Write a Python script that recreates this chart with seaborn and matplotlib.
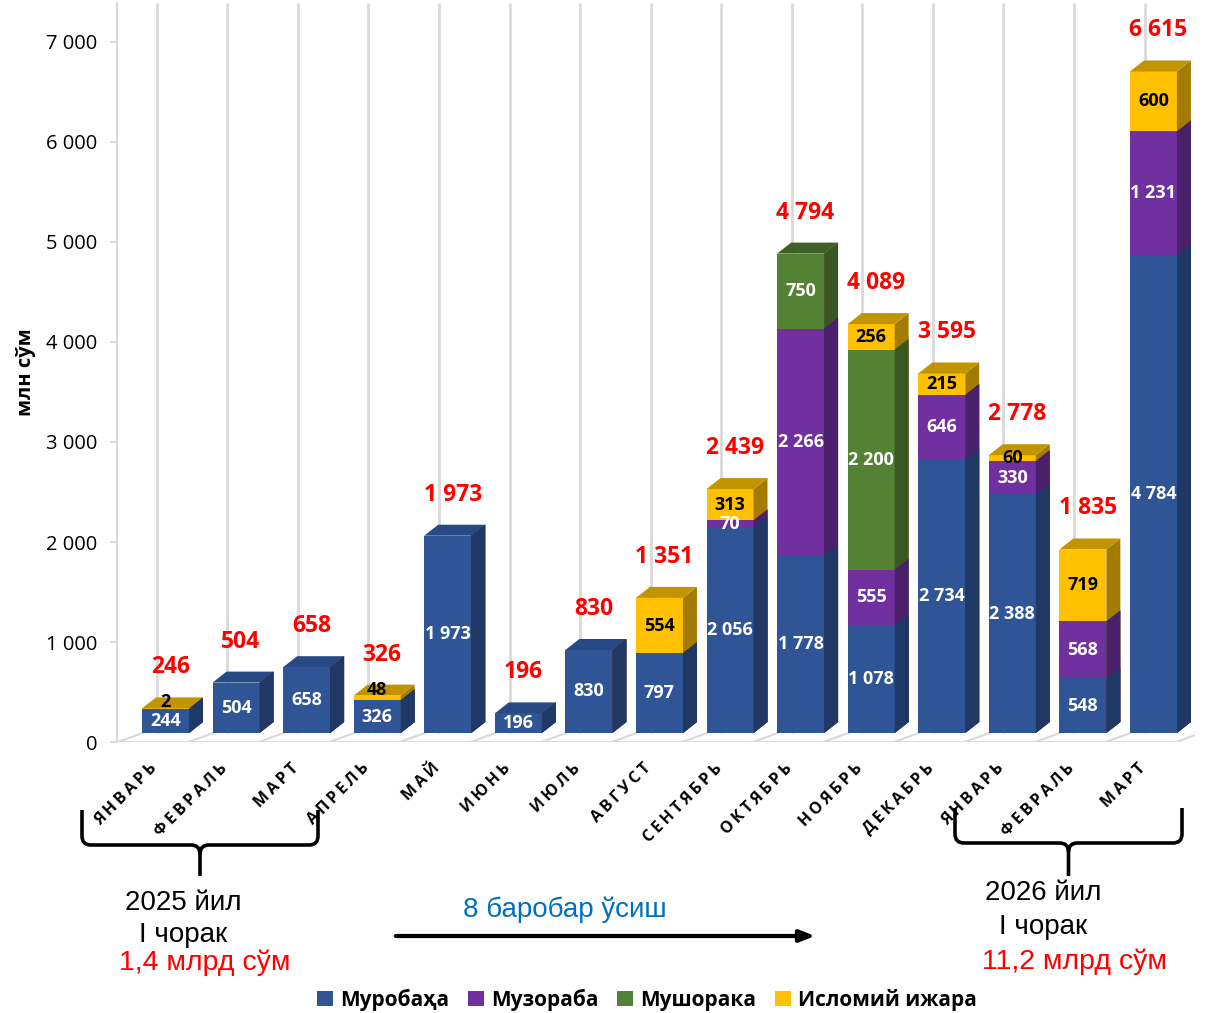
import numpy as np
import pandas as pd
import matplotlib
matplotlib.use('Agg')
import matplotlib.pyplot as plt
import seaborn as sns
from matplotlib.patches import Polygon, Patch, PathPatch
from matplotlib.path import Path
from matplotlib.ticker import FuncFormatter

# ---- data ----
months = ['ЯНВАРЬ', 'ФЕВРАЛЬ', 'МАРТ', 'АПРЕЛЬ', 'МАЙ', 'ИЮНЬ', 'ИЮЛЬ', 'АВГУСТ',
          'СЕНТЯБРЬ', 'ОКТЯБРЬ', 'НОЯБРЬ', 'ДЕКАБРЬ', 'ЯНВАРЬ', 'ФЕВРАЛЬ', 'МАРТ']
murobaha = [244, 504, 658, 326, 1973, 196, 830, 797, 2056, 1778, 1078, 2734, 2388, 548, 4784]
muzoraba = [0, 0, 0, 0, 0, 0, 0, 0, 70, 2266, 555, 646, 330, 568, 1231]
mushoraka = [0, 0, 0, 0, 0, 0, 0, 0, 0, 750, 2200, 0, 0, 0, 0]
ijara = [2, 0, 0, 48, 0, 0, 0, 554, 313, 0, 256, 215, 60, 719, 600]
totals = [246, 504, 658, 326, 1973, 196, 830, 1351, 2439, 4794, 4089, 3595, 2778, 1835, 6615]
series_names = ['Муробаҳа', 'Музораба', 'Мушорака', 'Исломий ижара']

front_colors = ['#2F5597', '#7030A0', '#548235', '#FFC000']
top_colors = ['#284A84', '#60298A', '#3E6127', '#C29400']
side_colors = ['#1F3864', '#4A1F6C', '#385723', '#A37B00']

plt.rcParams['font.family'] = ['Open Sans', 'DejaVu Sans']
annot_font = ['Liberation Sans', 'DejaVu Sans']

n = len(months)
vals = np.array([murobaha, muzoraba, mushoraka, ijara], dtype=float)
cums = np.cumsum(vals, axis=0)
df = pd.DataFrame({'idx': np.arange(n)})
for k, name in enumerate(series_names):
    df[name] = cums[k]


def fmt(v):
    return f'{int(round(v)):,}'.replace(',', ' ')


W, H = 1207, 1013
fig = plt.figure(figsize=(W / 100, H / 100), dpi=100)
ax = fig.add_axes([117 / W, (H - 742) / H, 1078 / W, 739 / H])
ax.patch.set_alpha(0)
for s in ax.spines.values():
    s.set_visible(False)

# back-wall gridlines and floor
ax.vlines(np.arange(n) - 0.125, 0, 7300, color='#D9D9D9', lw=2, zorder=0)
bnd = np.arange(n + 1) - 0.675
ax.hlines(-90, -0.79, bnd[-1], color='#D9D9D9', lw=2, zorder=0)
for b in bnd:
    ax.plot([b, b + 0.35], [-90, 0], color='#D9D9D9', lw=1.5, zorder=0)
    ax.plot([b, b], [-90, -150], color='#D9D9D9', lw=1.5, zorder=0)

# 3D-ish stacked bars: tallest cumulative first, then lower layers on top
bw = 0.666
dx, dy = 0.198, 110
for k in range(3, -1, -1):
    before = len(ax.patches)
    sns.barplot(data=df, x='idx', y=series_names[k], color=front_colors[k], saturation=1,
                width=bw, errorbar=None, ax=ax, zorder=2)
    bars = ax.patches[before:]
    for bar in bars:
        r = bar.get_x() + bar.get_width()
        h = bar.get_height()
        if h <= 0:
            continue
        ax.add_patch(Polygon([(r, 0), (r + dx, dy), (r + dx, h + dy), (r, h)],
                             closed=True, facecolor=side_colors[k], edgecolor='none', zorder=2))
    if k == 3:
        for i, bar in enumerate(bars):
            l = bar.get_x()
            r = l + bar.get_width()
            h = bar.get_height()
            top_k = max(j for j in range(4) if vals[j, i] > 0)
            ax.add_patch(Polygon([(l, h), (l + dx, h + dy), (r + dx, h + dy), (r, h)],
                                 closed=True, facecolor=top_colors[top_k], edgecolor='none', zorder=2))

ax.set_xlim(-0.687, 14.589)
ax.set_ylim(-90, 7300)

# segment labels
for i in range(n):
    base = 0
    for k in range(4):
        v = vals[k, i]
        if v > 0:
            is_top = k == max(j for j in range(4) if vals[j, i] > 0)
            y = base + v + 60 if (v < 50 and is_top) else base + v / 2
            ax.text(i, y, fmt(v), ha='center', va='center', fontsize=13, fontweight='bold',
                    color='black' if k == 3 else 'white', zorder=5)
        base += v
    ax.text(i + 0.07, cums[3, i] + 410, fmt(totals[i]), ha='center', va='center',
            fontsize=16.5, fontweight='bold', color='#FF0000', zorder=5)

# category labels
ax.set_xticks([])
ax.set_yticks([])
ax.set_xlabel('')
ax.set_ylabel('')
for i, m in enumerate(months):
    ax.text(i - 0.15, -330, '\u2009'.join(m), rotation=45, ha='right', va='center',
            rotation_mode='anchor', fontsize=11.5, fontweight='bold', clip_on=False)

# value axis on the back wall
sec = ax.secondary_yaxis('left', functions=(lambda y: y + 90, lambda y: y - 90))
sec.set_yticks(np.arange(0, 7001, 1000))
sec.yaxis.set_major_formatter(FuncFormatter(lambda v, p: fmt(v)))
sec.spines['left'].set_color('#D9D9D9')
sec.spines['left'].set_linewidth(1.5)
sec.tick_params(axis='y', length=5, width=1.5, color='#D9D9D9', labelsize=14.5, pad=9)
fig.text(26 / W, 1 - 372 / H, 'млн сўм', rotation=90, ha='center', va='center',
         fontsize=14.5, fontweight='bold')

# annotation overlay in pixel coordinates
ov = fig.add_axes([0, 0, 1, 1], zorder=10)
ov.set_xlim(0, W)
ov.set_ylim(H, 0)
ov.axis('off')


def brace(x0, x1, ytop, yh, ytip):
    xc = (x0 + x1) / 2
    verts = [(x0, ytop), (x0, yh - 9), (x0, yh), (x0 + 9, yh), (xc - 9, yh), (xc, yh), (xc, yh + 9),
             (xc, ytip), (xc, yh + 9), (xc, yh), (xc + 9, yh), (x1 - 9, yh), (x1, yh), (x1, yh - 9),
             (x1, ytop)]
    codes = [Path.MOVETO, Path.LINETO, Path.CURVE3, Path.CURVE3, Path.LINETO, Path.CURVE3,
             Path.CURVE3, Path.LINETO, Path.MOVETO, Path.CURVE3, Path.CURVE3, Path.LINETO,
             Path.CURVE3, Path.CURVE3, Path.LINETO]
    ov.add_patch(PathPatch(Path(verts, codes), facecolor='none', edgecolor='black', lw=2.6,
                           capstyle='butt'))


brace(82, 318, 810, 845, 876)
brace(955, 1182, 808, 843, 876)

ov.annotate('', xy=(818, 936), xytext=(393, 936),
            arrowprops=dict(arrowstyle='-|>,head_length=0.9,head_width=0.35', color='black', lw=3))

ov.text(183, 903, '2025 йил', ha='center', va='center', fontsize=20, family=annot_font)
ov.text(183, 935, 'I чорак', ha='center', va='center', fontsize=20, family=annot_font)
ov.text(205, 963, '1,4 млрд сўм', ha='center', va='center', fontsize=20.5, color='#FF0000',
        family=annot_font)
ov.text(565, 910, '8 баробар ўсиш', ha='center', va='center', fontsize=20, color='#0070C0',
        family=annot_font)
ov.text(1043, 893, '2026 йил', ha='center', va='center', fontsize=20, family=annot_font)
ov.text(1043, 927, 'I чорак', ha='center', va='center', fontsize=20, family=annot_font)
ov.text(1075, 962, '11,2 млрд сўм', ha='center', va='center', fontsize=20.5, color='#FF0000',
        family=annot_font)

handles = [Patch(facecolor=c, edgecolor='none') for c in front_colors]
fig.legend(handles, series_names, loc='center', bbox_to_anchor=(647 / W, 1 - 1000 / H), ncol=4,
           frameon=False, handlelength=0.75, handleheight=0.75, handletextpad=0.35,
           columnspacing=0.9, prop={'size': 15, 'weight': 'bold'})

fig.savefig('out.png', dpi=100)
